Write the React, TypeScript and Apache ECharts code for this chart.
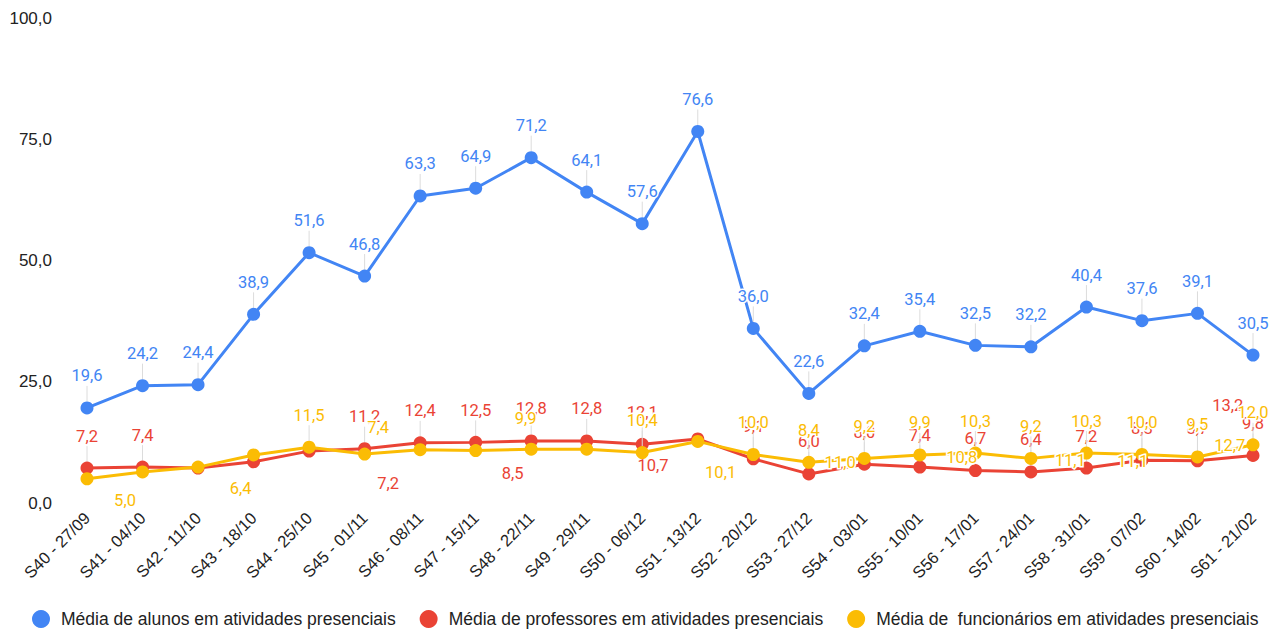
import React, { useEffect, useRef } from "react";
import * as echarts from "echarts";

const categories = [
  "S40 - 27/09", "S41 - 04/10", "S42 - 11/10", "S43 - 18/10", "S44 - 25/10", "S45 - 01/11",
  "S46 - 08/11", "S47 - 15/11", "S48 - 22/11", "S49 - 29/11", "S50 - 06/12", "S51 - 13/12",
  "S52 - 20/12", "S53 - 27/12", "S54 - 03/01", "S55 - 10/01", "S56 - 17/01", "S57 - 24/01",
  "S58 - 31/01", "S59 - 07/02", "S60 - 14/02", "S61 - 21/02",
];

const alunos = [19.6, 24.2, 24.4, 38.9, 51.6, 46.8, 63.3, 64.9, 71.2, 64.1, 57.6, 76.6, 36.0, 22.6, 32.4, 35.4, 32.5, 32.2, 40.4, 37.6, 39.1, 30.5];
const professores = [7.2, 7.4, 7.2, 8.5, 10.7, 11.2, 12.4, 12.5, 12.8, 12.8, 12.1, 13.2, 9.1, 6.0, 8.0, 7.4, 6.7, 6.4, 7.2, 8.8, 8.7, 9.8];
const funcionarios = [5.0, 6.4, 7.4, 9.9, 11.5, 10.1, 11.0, 10.8, 11.1, 11.1, 10.4, 12.7, 10.0, 8.4, 9.2, 9.9, 10.3, 9.2, 10.3, 10.0, 9.5, 12.0];

const seriesNames = [
  "Média de alunos em atividades presenciais",
  "Média de professores em atividades presenciais",
  "Média de  funcionários em atividades presenciais",
];
const yTicks = [0, 25, 50, 75, 100];

const colors = ["#4285F4", "#EA4335", "#FBBC04"];

// label offsets (style only) for labels that the original layout pushed away
const displaced: Record<number, Record<number, [number, number]>> = {
  1: { 2: [190, 35], 3: [259, 32], 4: [344, 34], 11: [530, -13] },
  2: {
    0: [38, 42], 1: [98, 37], 2: [180, -20], 3: [272, -16], 5: [356, 38],
    6: [420, 33], 7: [486, 27], 8: [539, 31], 9: [546, 32], 11: [532, 24],
  },
};

const fmt = (v: number) => v.toFixed(1).replace(".", ",");

export default function App() {
  const ref = useRef<HTMLDivElement>(null);
  useEffect(() => {
    if (!ref.current) return;
    const chart = echarts.init(ref.current, undefined, { renderer: "svg" });
    const build = (values: number[], si: number) =>
      values.map((v, i) =>
        displaced[si] && displaced[si][i]
          ? { value: v, labelLine: { show: false } }
          : { value: v }
      );
    const allData = [alunos, professores, funcionarios];
    chart.setOption({
      animation: false,
      color: colors,
      grid: { left: 87, right: 26, top: 18, bottom: 128, containLabel: false },
      legend: {
        top: 605,
        left: 27,
        icon: "circle",
        itemWidth: 30,
        itemHeight: 18,
        itemGap: 24,
        symbolKeepAspect: true,
        textStyle: { fontFamily: "Liberation Sans, Arial", fontSize: 17.5, color: "#222" },
        data: seriesNames,
      },
      xAxis: {
        type: "category",
        data: categories,
        boundaryGap: false,
        axisLine: { show: false },
        axisTick: { show: false },
        axisLabel: {
          interval: 0,
          rotate: 45,
          margin: 12,
          fontFamily: "Liberation Sans, Arial",
          fontSize: 16.5,
          color: "#222",
        },
      },
      yAxis: {
        type: "value",
        min: yTicks[0],
        max: yTicks[yTicks.length - 1],
        interval: 25,
        axisLine: { show: false },
        axisTick: { show: false },
        splitLine: { show: false },
        axisLabel: {
          margin: 35,
          formatter: (v: number) => fmt(v),
          fontFamily: "Liberation Sans, Arial",
          fontSize: 17,
          color: "#222",
        },
      },
      series: allData.map((vals, si) => ({
        name: seriesNames[si],
        type: "line",
        data: build(vals, si),
        symbol: "circle",
        symbolSize: 13,
        z: 2 + si,
        lineStyle: { width: 3, color: colors[si] },
        itemStyle: { color: colors[si] },
        label: {
          show: true,
          position: "top",
          distance: 5,
          formatter: (p: any) => fmt(p.value),
          color: colors[si],
          fontFamily: "Roboto",
          fontSize: 16.5,
          textBorderColor: "#fff",
          textBorderWidth: 3,
        },
        labelLine: { show: true, lineStyle: { color: "#dcdcdc", width: 1 } },
        labelLayout: (p: any) => {
          const d = displaced[p.seriesIndex] && displaced[p.seriesIndex][p.dataIndex];
          return d ? { dx: d[0], dy: d[1] } : { dy: -12 };
        },
      })),
    });
    return () => chart.dispose();
  }, []);
  return (
    <div
      ref={ref}
      style={{ position: "fixed", left: 0, top: 0, width: 1279, height: 631, background: "#fff" }}
    />
  );
}
